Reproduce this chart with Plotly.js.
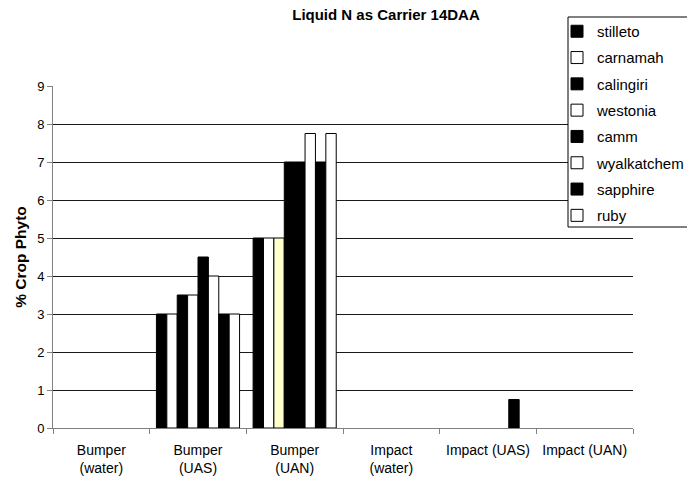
<!DOCTYPE html>
<html>
<head>
<meta charset="utf-8">
<script src="https://cdn.plot.ly/plotly-3.0.1.min.js"></script>
<style>html,body{margin:0;padding:0;background:#fff;}#chart{width:687px;height:477px;}</style>
</head>
<body>
<div id="chart"></div>
<script>
var categories = ["Bumper<br>(water)", "Bumper<br>(UAS)", "Bumper<br>(UAN)", "Impact<br>(water)", "Impact (UAS)", "Impact (UAN)"];
var seriesNames = ["stilleto", "carnamah", "calingiri", "westonia", "camm", "wyalkatchem", "sapphire", "ruby"];
var stilleto    = [null, 3,   5,    null, null, null];
var carnamah    = [null, 3,   5,    null, null, null];
var calingiri   = [null, 3.5, 5,    null, null, null];
var westonia    = [null, 3.5, 7,    null, null, null];
var camm        = [null, 4.5, 7,    null, null, null];
var wyalkatchem = [null, 4,   7.75, null, null, null];
var sapphire    = [null, 3,   7,    null, 0.75, null];
var ruby        = [null, 3,   7.75, null, null, null];
var yTicks = [0, 1, 2, 3, 4, 5, 6, 7, 8, 9];

var seriesValues = [stilleto, carnamah, calingiri, westonia, camm, wyalkatchem, sapphire, ruby];
var B = "#000000", W = "#ffffff", Y = "#ffffcc";
var seriesColors = [
  B,
  W,
  [B, B, Y, B, B, B],
  [W, W, B, W, W, W],
  B,
  W,
  B,
  W
];

var traces = seriesNames.map(function (name, i) {
  return {
    type: "bar",
    name: name,
    legendgroup: "g" + i,
    x: categories,
    y: seriesValues[i],
    marker: { color: seriesColors[i], line: { color: "#000000", width: 1 } },
    hoverinfo: "skip"
  };
});

var layout = {
  width: 687,
  height: 477,
  margin: { l: 53, r: 54, t: 86, b: 49, autoexpand: false },
  paper_bgcolor: "#ffffff",
  plot_bgcolor: "#ffffff",
  font: { family: "Liberation Sans, Arial, sans-serif", color: "#000000", size: 13 },
  barmode: "group",
  bargap: 0.14,
  bargroupgap: 0,
  title: {
    text: "<b>Liquid N as Carrier 14DAA</b>",
    font: { size: 15, family: "Liberation Sans, Arial, sans-serif", color: "#000" },
    xref: "container", x: 386 / 687, xanchor: "center",
    yref: "container", y: 1 - 15 / 477, yanchor: "middle"
  },
  xaxis: {
    type: "category",
    tickson: "boundaries",
    ticks: "outside",
    ticklen: 5,
    tickcolor: "#808080",
    showline: true,
    linecolor: "#808080",
    linewidth: 1,
    showgrid: false,
    tickfont: { size: 14 },
    ticklabelstandoff: 9,
    fixedrange: true
  },
  yaxis: {
    range: [0, 9],
    tickvals: yTicks,
    ticks: "outside",
    ticklen: 5,
    tickcolor: "#808080",
    showline: true,
    linecolor: "#808080",
    linewidth: 1,
    showgrid: true,
    gridcolor: "#1a1a1a",
    gridwidth: 1,
    zeroline: false,
    tickfont: { size: 13 },
    title: { text: "<b>% Crop Phyto</b>", font: { size: 15.5 }, standoff: 6 },
    fixedrange: true
  },
  showlegend: true,
  legend: {
    x: (557 - 53) / 580, xanchor: "left",
    y: (428 - 15) / 342, yanchor: "top",
    bgcolor: "rgba(0,0,0,0)",
    borderwidth: 0,
    font: { size: 15 },
    tracegroupgap: 3.8,
    traceorder: "grouped"
  },
  shapes: [{
    type: "rect", xref: "paper", yref: "paper", layer: "above",
    x0: (568 - 53) / 580, x1: (700 - 53) / 580,
    y0: (428 - 227) / 342, y1: (428 - 17) / 342,
    fillcolor: "#ffffff",
    line: { color: "#000000", width: 1 }
  }]
};

Plotly.newPlot("chart", traces, layout, { staticPlot: true, displayModeBar: false });
</script>
</body>
</html>
